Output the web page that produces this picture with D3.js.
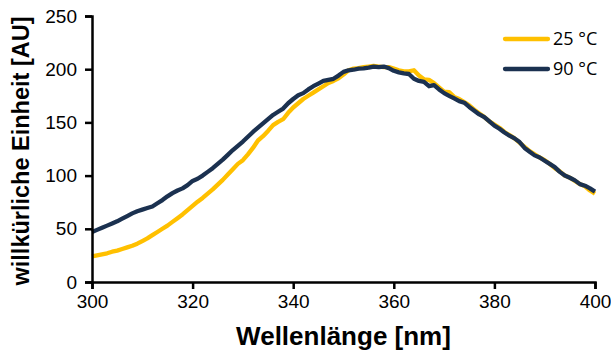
<!DOCTYPE html>
<html>
<head>
<meta charset="utf-8">
<script src="https://cdn.jsdelivr.net/npm/d3@7"></script>
<style>
  body { margin: 0; background: #fff; }
  .tick text { font-family: "Liberation Sans", Arial, sans-serif; }
</style>
</head>
<body>
<div id="chart"></div>
<script>
// wavelengths 300..400 nm, one value per nm
const wavelengths = d3.range(300, 401);

const series25 = [
  24, 25, 26, 27, 28.5, 29.5, 31, 32.5, 34, 36,
  38.5, 41, 44, 47, 50, 53, 56.5, 60, 63.5, 67.5,
  71.5, 75.5, 79, 83, 87, 91.5, 96, 101, 106, 111,
  114.5, 120, 126, 133, 137, 142, 147.5, 150.5, 153, 159,
  164, 168, 172, 175, 178, 181, 184, 187, 189, 191.5,
  195, 199, 200.5, 201, 202, 202.5, 203, 202.5, 202, 202,
  200.5, 199, 198, 198, 199, 194, 190.5, 190, 187, 183,
  179, 178.5, 174, 172, 169, 166, 162, 158.5, 155, 151,
  148, 145, 141, 138, 135, 131, 127, 123, 120, 117,
  114.5, 111, 107, 104, 100, 98, 95, 92, 90, 86,
  83
];

const series90 = [
  47, 49, 51, 53, 55, 57, 59.5, 62, 64.5, 66.5,
  68, 69.5, 71, 74, 77, 80.5, 83.5, 86, 88, 91,
  95, 97, 100, 103.5, 107, 111, 115, 119.5, 124, 128,
  132, 136.5, 141, 145, 149, 153, 157, 160, 163, 168,
  172, 175.5, 177.5, 181, 184, 186.5, 189, 190, 191, 194,
  197.5, 199, 199.5, 200.5, 200.8, 201.5, 202.5, 202, 202.5, 201,
  198.5, 197, 196, 195.5, 191, 189, 188, 184, 185, 181,
  177.5, 175, 172.5, 170, 168.5, 164.5, 161, 157.5, 155, 151,
  147, 144, 140.5, 137.5, 135, 131.5, 126, 122.5, 119, 117,
  114, 111, 108, 103.5, 100, 98, 95.5, 92, 90.5, 88,
  85
];

const seriesNames = ["25 °C", "90 °C"];
const seriesColors = ["#FFC000", "#1B3150"];
const xTicks = [300, 320, 340, 360, 380, 400];
const yTicks = [0, 50, 100, 150, 200, 250];

const W = 611, H = 352;
const margin = {top: 16, right: 16, bottom: 70, left: 92};
const width = W - margin.left - margin.right,
      height = H - margin.top - margin.bottom;

const svg = d3.select("#chart")
  .append("svg")
    .attr("width", W)
    .attr("height", H);

const g = svg.append("g")
  .attr("transform", `translate(${margin.left},${margin.top})`);

const x = d3.scaleLinear().domain([300, 400]).range([0, width]);
const y = d3.scaleLinear().domain([0, 250]).range([height, 0]);

// lines (yellow first, navy on top)
const line = d3.line()
  .x((d, i) => x(wavelengths[i]))
  .y(d => y(d));

[series25, series90].forEach((s, k) => {
  g.append("path")
    .datum(s)
    .attr("fill", "none")
    .attr("stroke", seriesColors[k])
    .attr("stroke-width", 4.3)
    .attr("stroke-linejoin", "round")
    .attr("d", line);
});

// X axis
const xAxis = g.append("g")
  .attr("transform", `translate(0,${height})`)
  .call(d3.axisBottom(x).tickValues(xTicks).tickSize(7).tickPadding(6).tickFormat(d3.format("d")));

// Y axis
const yAxis = g.append("g")
  .call(d3.axisLeft(y).tickValues(yTicks).tickSize(7).tickPadding(8).tickFormat(d3.format("d")));

[xAxis, yAxis].forEach(a => {
  a.select(".domain").attr("stroke", "#000").attr("stroke-width", 2.5);
  a.selectAll(".tick line").attr("stroke", "#000").attr("stroke-width", 2.5);
  a.selectAll(".tick text")
    .attr("fill", "#000")
    .style("font-size", "19px");
});

// axis titles
svg.append("text")
  .attr("x", margin.left + width / 2)
  .attr("y", 345)
  .attr("text-anchor", "middle")
  .style("font-family", "'Liberation Sans', Arial, sans-serif")
  .style("font-weight", "bold")
  .style("font-size", "26px")
  .text("Wellenlänge [nm]");

svg.append("text")
  .attr("transform", `translate(29,${margin.top + height / 2 + 2}) rotate(-90)`)
  .attr("text-anchor", "middle")
  .style("font-family", "'Liberation Sans', Arial, sans-serif")
  .style("font-weight", "bold")
  .style("font-size", "23.5px")
  .text("willkürliche Einheit [AU]");

// legend
const legend = svg.append("g").attr("transform", "translate(505,39)");
seriesNames.forEach((name, k) => {
  const row = legend.append("g").attr("transform", `translate(0,${k * 30})`);
  row.append("line")
    .attr("x1", 0).attr("x2", 43)
    .attr("stroke", seriesColors[k])
    .attr("stroke-width", 4.3)
    .attr("stroke-linecap", "round");
  row.append("text")
    .attr("x", 48)
    .attr("dy", "0.35em")
    .style("font-family", "'Open Sans', 'Noto Sans', sans-serif")
    .style("font-size", "18px")
    .text(name);
});
</script>
</body>
</html>
